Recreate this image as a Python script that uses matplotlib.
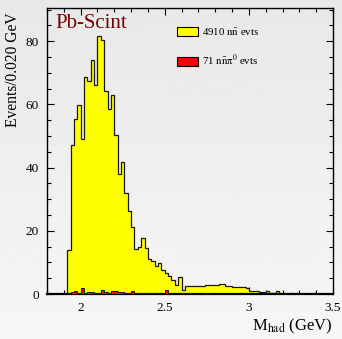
import numpy as np
import matplotlib
matplotlib.use("Agg")
import matplotlib.pyplot as plt
from matplotlib.patches import Patch
from matplotlib.ticker import MultipleLocator

plt.rcParams['font.family'] = ['Liberation Serif', 'DejaVu Serif']
plt.rcParams['mathtext.fontset'] = 'stix'

# hadronic mass histogram, 0.020 GeV bins starting at 1.92 GeV
bin_lo = 1.92
bin_w = 0.02
nn_evts = [14.0, 47.0, 55.3, 59.8, 49.0, 68.8, 67.4, 74.0, 66.1, 81.5,
           80.3, 64.3, 58.6, 62.9, 50.2, 38.0, 41.9, 31.9, 26.2, 21.3,
           14.2, 14.8, 17.6, 14.5, 11.1, 10.5, 9.0, 9.7, 7.5, 6.7,
           5.6, 4.4, 3.0, 5.4, 1.3, 2.6, 2.4, 2.4, 2.6, 2.6,
           2.6, 2.9, 2.7, 2.9, 2.8, 3.3, 3.2, 2.6, 2.5, 2.3,
           2.2, 2.1, 2.1, 2.0, 1.0, 0.8, 0.8, 0.5, 0.5, 0.9,
           0.3, 0.4, 0.8, 0.2, 0.1, 0.0, 0.2, 0.0, 0.2, 0.0,
           0.0, 0.0, 0.0, 0.4, 0.0, 0.0, 0.0, 0.0, 0.0]
nnpi0_evts = [0.0, 0.5, 0.8, 0.2, 1.8, 0.3, 0.7, 0.7, 0.2, 0.3,
              1.2, 0.6, 0.4, 1.1, 0.8, 0.5, 0.5, 0.3, 0.3, 0.9,
              0.2, 0.3, 0.3, 0.0, 0.3, 0.2, 0.0, 0.3, 0.1, 1.4,
              0.2, 0.0, 0.0, 0.0, 0.4, 0.4, 0.4, 0.0, 0.0, 0.0,
              0.0, 0.2, 0.0, 0.0, 0.0, 0.0, 0.0, 0.0, 0.0, 0.0,
              0.0, 0.0, 0.0, 0.0, 0.0, 0.0, 0.0, 0.0, 0.0, 0.0,
              0.0, 0.0, 0.0, 0.0, 0.0, 0.0, 0.0, 0.0, 0.0, 0.0,
              0.0, 0.0, 0.0, 0.0, 0.0, 0.0, 0.0, 0.0, 0.0]
labels = [r'4910 $\mathrm{n\bar{n}}$ evts', r'71 $\mathrm{n\bar{n}\pi^0}$ evts']

edges = bin_lo + bin_w * np.arange(len(nn_evts) + 1)

fig = plt.figure(figsize=(3.42, 3.39), dpi=100)

# soft grey background, a bit lighter towards the bottom
bg = fig.add_axes([0, 0, 1, 1], zorder=-10)
grad = np.linspace(0.91, 0.965, 256).reshape(-1, 1)
bg.imshow(grad, aspect='auto', cmap='gray', vmin=0, vmax=1,
          extent=[0, 1, 0, 1], origin='upper')
bg.axis('off')

ax = fig.add_axes([0.1374, 0.1327, 0.8363, 0.8437])
ax.set_facecolor('none')
ax.set_axisbelow(True)

ax.stairs(nn_evts, edges, fill=True, facecolor='#ffff00', zorder=1)
ax.stairs(nn_evts, edges, color='#1a1a1a', linewidth=0.9, zorder=2)
ax.stairs(nnpi0_evts, edges, fill=True, facecolor='#ff0000', zorder=3)
ax.stairs(nnpi0_evts, edges, color='#1a1a1a', linewidth=0.7, zorder=4)

ax.set_xlim(1.8, 3.5)
ax.set_ylim(0, 90.5)

ax.xaxis.set_major_locator(MultipleLocator(0.5))
ax.xaxis.set_minor_locator(MultipleLocator(0.1))
ax.yaxis.set_major_locator(MultipleLocator(20))
ax.yaxis.set_minor_locator(MultipleLocator(5))
ax.tick_params(which='both', direction='in', top=True, right=True,
               labelsize=9.5, width=0.8)
ax.tick_params(which='major', length=4.8, pad=6)
ax.tick_params(which='minor', length=2.9)
ax.set_xticks([2, 2.5, 3, 3.5])
ax.set_xticklabels(['2', '2.5', '3', '3.5'])

for s in ax.spines.values():
    s.set_linewidth(1.0)
ax.spines['bottom'].set_linewidth(1.6)

fig.text(13 / 342, 1 - 12 / 339, 'Events/0.020 GeV', fontsize=11.2,
         rotation=90, ha='center', va='top')
ax.set_xlabel(r'M$_{\mathrm{had}}$ (GeV)', fontsize=12, loc='right', labelpad=2)

ax.text(0.028, 0.93, 'Pb-Scint', transform=ax.transAxes, fontsize=15,
        color='#780000', ha='left', va='baseline')

handles = [Patch(facecolor='#ffff00', edgecolor='black', linewidth=0.8),
           Patch(facecolor='#ff0000', edgecolor='black', linewidth=0.8)]
ax.legend(handles, labels, loc='upper left', bbox_to_anchor=(0.42, 0.97),
          frameon=False, fontsize=7.8, handlelength=1.95, handleheight=0.85,
          handletextpad=0.4, labelspacing=1.45)

fig.savefig('out.png', dpi=100)
